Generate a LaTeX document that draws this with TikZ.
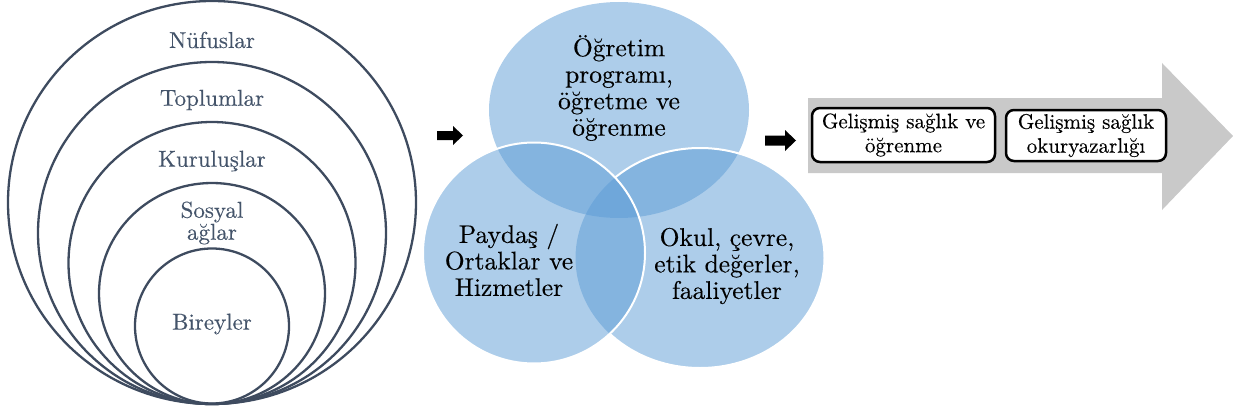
\documentclass[tikz,border=0pt]{standalone}
\usepackage{fontspec}
\newfontfamily\lmheavy{lmroman10-regular.otf}[FakeBold=0.3]
\definecolor{slate}{RGB}{62,75,95}
\definecolor{slatetext}{RGB}{68,84,106}
\definecolor{venn}{RGB}{91,155,213}
\definecolor{arrowgray}{RGB}{201,201,201}
\tikzset{
  ring/.style={draw=slate, line width=2.3pt},
  lbl/.style={text=slatetext, inner sep=0pt, align=center, font=\lmheavy\fontsize{23}{22}\selectfont},
  vennfill/.style={fill=venn, fill opacity=0.5},
  vennedge/.style={draw=white, line width=2pt},
  venntxt/.style={text=black, inner sep=0pt, align=center, font=\lmheavy\fontsize{25.5}{26.5}\selectfont},
  hbox/.style={draw=black, fill=white, line width=2.5pt, rounded corners=8pt, align=center, inner sep=0pt, font=\lmheavy\fontsize{21}{24}\selectfont},
  blackarrow/.style={fill=black}
}
\begin{document}
\begin{tikzpicture}[x=1pt,y=-1pt]
\useasboundingbox (0,0) rectangle (1233,412);
% nested circles
\draw[ring] (212,202.5) ellipse [x radius=204pt, y radius=201.5pt];
\draw[ring] (212,233) ellipse [x radius=174pt, y radius=171pt];
\draw[ring] (212,263) ellipse [x radius=143.5pt, y radius=141pt];
\draw[ring] (212,293.5) ellipse [x radius=113pt, y radius=110.5pt];
\draw[ring] (212,326) ellipse [x radius=77pt, y radius=77.5pt];
\node[lbl] (nufus) at (212,40) {Nüfuslar};
\node[lbl] (toplum) at (212,100) {Toplumlar};
\node[lbl] (kurulus) at (212,161) {Kuruluşlar};
\node[lbl] (sosyal) at (212,223) {Sosyal\\ağlar};
\node[lbl] (birey) at (212,324) {Bireyler};
% first small arrow
\fill[blackarrow] (437,131) -- (453,131) -- (453,126) -- (463,135.5) -- (453,145) -- (453,140) -- (437,140) -- cycle;
% venn
\fill[vennfill] (619,110) ellipse [x radius=130pt, y radius=108pt];
\fill[vennfill] (700,258) ellipse [x radius=124.5pt, y radius=110pt];
\begin{scope}[even odd rule]
  \clip (400,-10) rectangle (860,420) (534,253) ellipse [x radius=111pt, y radius=110.5pt];
  \draw[vennedge] (700,258) ellipse [x radius=124.5pt, y radius=110pt];
\end{scope}
\fill[vennfill] (534,253) ellipse [x radius=111pt, y radius=110.5pt];
\draw[vennedge] (534,253) ellipse [x radius=111pt, y radius=110.5pt];
\node[venntxt] (ogretim) at (619,88) {Öğretim\\programı,\\öğretme ve\\öğrenme};
\node[venntxt] (paydas) at (509,260) {Paydaş /\\Ortaklar ve\\Hizmetler};
\node[venntxt] (okul) at (727,266) {Okul, çevre,\\etik değerler,\\faaliyetler};
% second small arrow
\fill[blackarrow] (765,135.5) -- (785,135.5) -- (785,130) -- (796,140.5) -- (785,151) -- (785,145.5) -- (765,145.5) -- cycle;
% big gray arrow
\fill[arrowgray] (808,98) -- (1162,98) -- (1162,63) -- (1233,136) -- (1162,210) -- (1162,173) -- (808,173) -- cycle;
\node[hbox, minimum width=183pt, minimum height=54pt] (b1) at (903.5,135) {Gelişmiş sağlık ve\\öğrenme};
\node[hbox, minimum width=160pt, minimum height=51pt] (b2) at (1086,135.5) {Gelişmiş sağlık\\okuryazarlığı};
\end{tikzpicture}
\end{document}
